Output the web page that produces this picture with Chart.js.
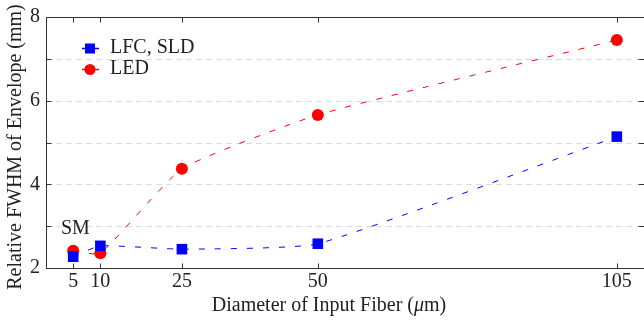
<!DOCTYPE html>
<html lang="en">
<head>
  <meta charset="UTF-8" />
  <title>Relative FWHM of Envelope</title>
  <script src="https://cdn.jsdelivr.net/npm/chart.js"></script>
  <style>
    html, body { margin: 0; padding: 0; background: #fff; }
    #wrap { width: 644px; height: 325px; }
  </style>
</head>
<body>
  <div id="wrap"><canvas id="fwhmChart" width="644" height="325"></canvas></div>

  <script>
    // fiber core diameters (um) and measured envelope widths
    const diameters = [5, 10, 25, 50, 105];
    const lfcSld = [2.27, 2.53, 2.45, 2.58, 5.14];
    const led = [2.41, 2.35, 4.37, 5.66, 7.45];

    const xTicks = [5, 10, 25, 50, 105];
    const yTickLabels = [2, 4, 6, 8];
    const yGrid = [3, 4, 5, 6, 7];
    const smNote = { text: "SM", x: 5.4, y: 2.82 };

    const serif = "'Liberation Serif', 'DejaVu Serif', serif";
    const ink = "#222";

    const toPoints = (ys) => diameters.map((d, i) => ({ x: d, y: ys[i] }));

    // dashed grid, inward ticks, frame, legend, axis titles and SM note
    const framePlugin = {
      id: "frame",
      beforeDatasetsDraw(chart) {
        const { ctx, chartArea: a, scales: { y } } = chart;
        ctx.save();
        ctx.strokeStyle = "#dcdcdc";
        ctx.lineWidth = 1;
        ctx.setLineDash([6, 4]);
        yGrid.forEach(v => {
          const py = Math.round(y.getPixelForValue(v)) + 0.5;
          ctx.beginPath();
          ctx.moveTo(a.left, py);
          ctx.lineTo(a.right - 6, py);
          ctx.stroke();
        });
        ctx.restore();
      },
      afterDatasetsDraw(chart) {
        const { ctx, chartArea: a, scales: { x, y } } = chart;
        ctx.save();
        ctx.strokeStyle = "#333";
        ctx.lineWidth = 1;
        ctx.setLineDash([]);
        // right edge of the frame sits just past the canvas, as in the original
        const L = Math.round(a.left) + 0.5, R = Math.round(a.right) + 0.5;
        const T = Math.round(a.top) + 0.5, B = Math.round(a.bottom) + 0.5;
        ctx.strokeRect(L, T, R - L, B - T);
        const tl = 5;
        ctx.beginPath();
        xTicks.forEach(v => {
          const px = Math.round(x.getPixelForValue(v)) + 0.5;
          ctx.moveTo(px, B); ctx.lineTo(px, B - tl);
          ctx.moveTo(px, T); ctx.lineTo(px, T + tl);
        });
        for (let v = 3; v <= 7; v++) {
          const py = Math.round(y.getPixelForValue(v)) + 0.5;
          ctx.moveTo(L, py); ctx.lineTo(L + tl, py);
          ctx.moveTo(R, py); ctx.lineTo(R - tl - 1, py);
        }
        ctx.stroke();

        ctx.fillStyle = ink;
        ctx.textBaseline = "alphabetic";

        // SM note
        ctx.font = "20px " + serif;
        ctx.textAlign = "center";
        ctx.fillText(smNote.text, x.getPixelForValue(smNote.x), y.getPixelForValue(smNote.y));

        // x title with italic mu
        const parts = [
          { t: "Diameter of Input Fiber (", f: "20px " + serif },
          { t: "\u03bc", f: "italic 20px " + serif },
          { t: "m)", f: "20px " + serif }
        ];
        let total = 0;
        parts.forEach(p => { ctx.font = p.f; p.w = ctx.measureText(p.t).width; total += p.w; });
        let cx = 329 - total / 2;
        ctx.textAlign = "left";
        parts.forEach(p => { ctx.font = p.f; ctx.fillText(p.t, cx, 311); cx += p.w; });

        // y title
        ctx.save();
        ctx.translate(21, 147);
        ctx.rotate(-Math.PI / 2);
        ctx.font = "20px " + serif;
        ctx.textAlign = "center";
        ctx.fillText("Relative FWHM of Envelope (mm)", 0, 0);
        ctx.restore();

        // legend inside the plot
        const rows = [
          { label: "LFC, SLD", color: "#0000ff", style: "rect", y: 48.5 },
          { label: "LED", color: "#ff0000", style: "circle", y: 69.5 }
        ];
        rows.forEach(r => {
          ctx.strokeStyle = r.color;
          ctx.lineWidth = 1.5;
          ctx.beginPath();
          ctx.moveTo(82, r.y); ctx.lineTo(99, r.y);
          ctx.stroke();
          ctx.fillStyle = r.color;
          if (r.style === "rect") {
            ctx.fillRect(85, r.y - 5, 10, 10);
          } else {
            ctx.beginPath();
            ctx.arc(90, r.y, 5.5, 0, Math.PI * 2);
            ctx.fill();
          }
          ctx.fillStyle = ink;
          ctx.textAlign = "left";
          ctx.font = "20px " + serif;
          ctx.fillText(r.label, 110, r.y + 4);
        });
        ctx.restore();
      }
    };

    const ctx = document.getElementById("fwhmChart").getContext("2d");

    new Chart(ctx, {
      type: "line",
      data: {
        datasets: [
          {
            label: "LFC, SLD",
            data: toPoints(lfcSld),
            borderColor: "#0000ff",
            backgroundColor: "#0000ff",
            borderWidth: 1,
            borderDash: [6, 10],
            pointStyle: "rect",
            pointRadius: 7.5,
            pointBorderWidth: 0,
            tension: 0.15,
            fill: false
          },
          {
            label: "LED",
            data: toPoints(led),
            borderColor: "#ff0000",
            backgroundColor: "#ff0000",
            borderWidth: 1,
            borderDash: [6, 10],
            pointStyle: "circle",
            pointRadius: 6,
            pointBorderWidth: 0,
            tension: 0.15,
            fill: false
          }
        ]
      },
      options: {
        responsive: false,
        animation: false,
        layout: { autoPadding: false, padding: { top: 17, right: 0, left: 0, bottom: 0 } },
        plugins: {
          legend: { display: false },
          tooltip: { enabled: false }
        },
        scales: {
          x: {
            type: "linear",
            min: 0,
            max: 110,
            grid: { display: false, drawTicks: false },
            border: { display: false },
            afterBuildTicks: (s) => { s.ticks = xTicks.map(v => ({ value: v })); },
            afterFit: (s) => { s.height = 57; s.paddingLeft = 0; s.paddingRight = 0; },
            ticks: {
              autoSkip: false,
              maxRotation: 0,
              padding: 2,
              color: ink,
              font: { family: serif, size: 20 }
            }
          },
          y: {
            min: 2,
            max: 8,
            grid: { display: false, drawTicks: false },
            border: { display: false },
            afterFit: (s) => { s.width = 46; s.paddingTop = 0; s.paddingBottom = 0; },
            ticks: {
              stepSize: 1,
              padding: 6,
              color: ink,
              font: { family: serif, size: 20 },
              callback: (v) => yTickLabels.includes(v) ? String(v) : ""
            }
          }
        }
      },
      plugins: [framePlugin]
    });
  </script>
</body>
</html>
